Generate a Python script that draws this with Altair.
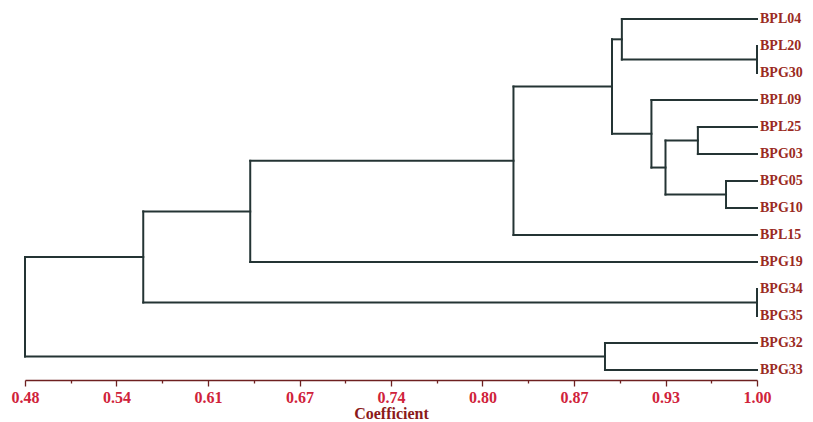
import altair as alt
import pandas as pd
import numpy as np

# Leaves, top to bottom
leaves = ["BPL04", "BPL20", "BPG30", "BPL09", "BPL25", "BPG03", "BPG05",
          "BPG10", "BPL15", "BPG19", "BPG34", "BPG35", "BPG32", "BPG33"]

# Merge steps (linkage): node Mi joins merge_a[i] and merge_b[i] at coefficient merge_coef[i]
merge_a = ["BPL20", "BPG34", "BPG05", "BPL25", "M4", "BPL09", "BPL04", "M7", "BPG32", "M8", "M10", "M11", "M12"]
merge_b = ["BPG30", "BPG35", "BPG10", "BPG03", "M3", "M5", "M1", "M6", "BPG33", "BPL15", "BPG19", "M2", "M9"]
merge_coef = [1.000, 1.000, 0.978, 0.958, 0.935, 0.925, 0.904, 0.897, 0.892, 0.827, 0.640, 0.564, 0.480]

# Axis
x_min, x_max = 0.48, 1.00
tick_labels = ["0.48", "0.54", "0.61", "0.67", "0.74", "0.80", "0.87", "0.93", "1.00"]
minor_per_major = 8

# ---- build segments from the tree ----
pos = {name: (1.0, float(i)) for i, name in enumerate(leaves)}  # (coef, row)
segs = []
for i, (a, b, h) in enumerate(zip(merge_a, merge_b, merge_coef), start=1):
    xa, ya = pos[a]
    xb, yb = pos[b]
    segs.append(dict(x=xa, x2=h, y=ya, y2=ya))
    segs.append(dict(x=xb, x2=h, y=yb, y2=yb))
    segs.append(dict(x=h, x2=h, y=ya, y2=yb))
    pos[f"M{i}"] = (h, (ya + yb) / 2)
seg_df = pd.DataFrame(segs)
leaf_df = pd.DataFrame({"name": leaves, "row": list(range(len(leaves))), "coef": [1.0] * len(leaves)})

n_major = len(tick_labels) - 1
step = (x_max - x_min) / n_major
tick_vals = [float(v) for v in np.linspace(x_min, x_max, n_major * minor_per_major + 1)]
lab_arr = "[" + ",".join(f"'{t}'" for t in tick_labels) + "]"
k_expr = f"((datum.value-{x_min})/{step})"
is_major = f"abs({k_expr}-round({k_expr}))<0.001"
label_expr = f"{is_major} ? {lab_arr}[round({k_expr})] : ''"

xscale = alt.Scale(domain=[x_min, x_max], nice=False, zero=False)
yscale = alt.Scale(domain=[13.37, -0.41], nice=False, zero=False)

line_col = "#243434"
lines = alt.Chart(seg_df).mark_rule(color=line_col, strokeWidth=2, strokeCap="square").encode(
    x=alt.X("x:Q", scale=xscale, axis=alt.Axis(
        title="Coefficient", values=tick_vals, labelExpr=label_expr,
        labelOverlap=False, labelFlush=False, grid=False,
        tickSize={"condition": {"test": is_major, "value": 6}, "value": 3},
        tickColor="#6e2020", domainColor="#6e2020", domainWidth=1.5, tickWidth=1.3,
        labelColor="#d0223a", labelFont="Liberation Serif", labelFontWeight="bold",
        labelFontSize=16, labelPadding=3,
        titleColor="#8b1a1a", titleFont="Liberation Serif", titleFontWeight="bold",
        titleFontSize=16, titlePadding=0)),
    x2="x2:Q",
    y=alt.Y("y:Q", scale=yscale, axis=None),
    y2="y2:Q",
)

texts = alt.Chart(leaf_df).mark_text(
    align="left", baseline="middle", dx=3, font="Liberation Serif",
    fontWeight="bold", fontSize=14, color="#9a2a22"
).encode(
    x=alt.X("coef:Q", scale=xscale),
    y=alt.Y("row:Q", scale=yscale, axis=None),
    text="name:N",
)

chart = alt.layer(lines, texts).properties(
    width=732, height=372,
    autosize=alt.AutoSizeParams(type="none"),
    padding={"left": 17, "top": 0, "right": 48, "bottom": 42},
).configure(background="white", view={"stroke": None})

chart.save("out.html", embed_options={"renderer": "svg", "actions": False})
